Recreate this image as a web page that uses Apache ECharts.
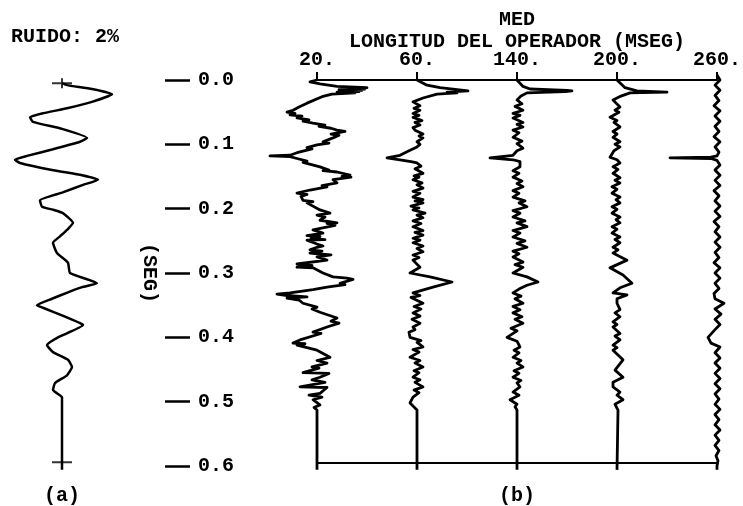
<!DOCTYPE html>
<html><head><meta charset="utf-8">
<script src="https://cdn.jsdelivr.net/npm/echarts@6/dist/echarts.min.js"></script>
<style>html,body{margin:0;padding:0;background:#fff}#c{width:743px;height:506px}</style>
</head><body><div id="c"></div>
<script>
// ---- labels ----
const noiseLabel = 'RUIDO: 2%';
const panelTitle = 'MED\nLONGITUD DEL OPERADOR (MSEG)';
const operatorLabels = ['20.', '60.', '140.', '200.', '260.'];
const operatorPositions = [0, 100, 200, 300, 400];
const timeTickLabels = ['0.0', '0.1', '0.2', '0.3', '0.4', '0.5', '0.6'];
const timeAxisName = '(SEG)';
const panelNames = ['(a)', '(b)'];

// ---- traces: [amplitude, time in ms] ----
const traceA = [[0,5],[5,8],[30,14],[50,22],[30,34],[5,44],[-20,52],[-32,58],[-29,65],[0,76],[25,90],[18,96],[-10,108],[-35,118],[-47,124],[-42,129],[-10,140],[20,148],[36,155],[21,163],[0,175],[-22,187],[-20,197],[-8,202],[1,207],[11,222],[5,233],[-2,243],[-9,253],[-5,269],[6,284],[8,300],[35,316],[20,322],[6,330],[-10,340],[-25,350],[-19,354],[0,366],[18,378],[21,381],[-4,400],[-15,412],[-9,423],[6,435],[10,446],[5,459],[-7,471],[-9,482],[0,493],[0,497],[0,606]];
const trace20 = [[0,0],[-7,3],[3,6],[20,10],[50,12],[30,13],[48,14],[22,15],[45,16],[25,17],[42,18],[20,19],[38,20],[15,22],[5,26],[-10,36],[-18,42],[-24,47],[-30,50],[-22,52],[-27,54],[-15,56],[-20,59],[-8,62],[-14,64],[-4,67],[8,70],[2,72],[14,75],[20,78],[28,80],[14,84],[22,86],[16,90],[6,96],[12,98],[0,101],[-10,105],[-5,107],[-10,109],[-20,113],[-27,117],[-47,118],[-27,119],[-20,122],[-10,126],[-14,128],[3,135],[12,140],[6,141],[20,143],[33,148],[25,150],[34,151],[16,155],[20,160],[5,164],[10,166],[-7,171],[-20,176],[-10,178],[-16,181],[-14,187],[-4,189],[-10,191],[3,202],[13,207],[0,210],[8,213],[3,218],[20,222],[10,223],[18,226],[-4,233],[6,238],[-10,242],[3,243],[-6,246],[8,248],[-10,249],[0,255],[6,258],[0,260],[-7,264],[5,266],[-7,269],[14,272],[0,275],[10,280],[-20,286],[-5,288],[-20,291],[-4,292],[6,300],[16,306],[30,308],[36,310],[23,316],[28,318],[10,322],[-4,326],[-27,331],[-40,333],[-30,335],[-10,337],[-30,339],[-18,342],[-14,347],[0,353],[-5,356],[3,361],[20,370],[14,375],[22,378],[10,384],[-4,392],[4,394],[-17,404],[-24,409],[-12,410],[-20,412],[0,420],[13,431],[0,436],[10,440],[-5,446],[2,448],[-14,455],[12,456],[3,462],[-5,466],[8,470],[-17,477],[10,478],[3,487],[-8,490],[5,493],[-4,497],[3,505],[-3,509],[0,513],[0,606]];
const trace60 = [[0,0],[0,3],[10,8],[23,12],[51,17],[30,19],[40,20],[20,22],[6,28],[-4,34],[3,40],[-3,44],[3,47],[-4,52],[2,55],[-4,58],[5,63],[-2,66],[3,70],[-4,74],[-2,78],[6,84],[2,87],[6,90],[0,96],[3,100],[0,104],[-8,110],[-17,117],[-30,121],[-17,124],[-6,127],[0,129],[4,134],[-2,138],[6,145],[-3,149],[2,151],[-4,155],[5,160],[0,163],[6,168],[-4,173],[3,176],[-4,182],[6,186],[-2,188],[6,191],[-6,196],[2,199],[-4,202],[8,207],[0,210],[6,214],[-4,219],[4,223],[-4,228],[6,234],[-2,237],[6,241],[-4,246],[3,249],[-4,253],[6,258],[0,262],[6,267],[-4,272],[2,276],[-4,280],[3,291],[-7,300],[13,306],[35,314],[16,322],[-4,331],[3,335],[-6,338],[6,347],[-3,352],[4,356],[-4,362],[3,367],[-5,372],[3,378],[-4,384],[-2,388],[-8,392],[-7,400],[4,405],[0,408],[6,415],[-4,419],[2,423],[-7,431],[3,436],[-2,440],[6,446],[-3,452],[2,455],[-4,462],[3,466],[-2,470],[6,477],[-3,482],[2,486],[-4,493],[-7,502],[0,513],[0,606]];
const trace140 = [[0,0],[0,3],[6,10],[13,14],[50,16],[55,17],[48,18],[10,20],[4,25],[0,31],[5,37],[-2,41],[6,47],[-4,52],[3,55],[-4,59],[6,66],[0,69],[6,73],[-4,78],[2,82],[-4,89],[5,95],[0,99],[6,106],[0,110],[2,112],[-4,117],[-27,121],[-4,124],[3,127],[3,135],[-4,141],[2,145],[-4,151],[5,157],[0,161],[6,166],[-4,172],[2,176],[-4,182],[8,188],[2,191],[10,197],[-4,203],[3,207],[-4,213],[8,219],[0,222],[10,228],[-4,234],[3,238],[-4,244],[8,250],[0,254],[10,260],[-4,266],[2,270],[-4,275],[6,283],[-2,287],[6,291],[-4,300],[10,306],[21,314],[10,319],[2,325],[-4,331],[4,336],[-2,340],[6,347],[-4,352],[3,357],[-4,362],[5,368],[-2,372],[6,378],[-6,386],[0,390],[-10,400],[0,406],[3,415],[-3,420],[2,424],[-4,431],[4,436],[0,440],[6,446],[-3,452],[2,456],[-4,462],[4,467],[0,471],[3,477],[-4,485],[2,490],[-7,497],[0,504],[-2,508],[0,513],[0,606]];
const trace200 = [[0,0],[0,3],[8,12],[20,17],[50,19],[13,20],[4,25],[-4,31],[3,42],[-2,47],[2,50],[-7,58],[0,63],[-3,66],[3,73],[-4,80],[0,84],[-4,89],[3,96],[-2,100],[3,104],[-3,110],[-7,120],[0,124],[3,129],[-4,135],[1,139],[-4,145],[3,152],[-2,156],[3,160],[-5,166],[0,170],[-5,176],[3,182],[-1,186],[3,191],[-5,197],[0,201],[-5,207],[3,213],[-1,217],[3,222],[-5,228],[0,232],[-5,238],[3,244],[-2,248],[3,253],[-4,260],[1,264],[-4,269],[10,280],[-7,292],[6,303],[15,316],[3,323],[-4,331],[10,334],[0,340],[0,347],[3,357],[-2,362],[3,368],[-4,376],[0,380],[-4,384],[3,394],[-2,398],[3,404],[-4,412],[0,416],[-4,420],[6,435],[-2,451],[6,462],[-4,470],[-4,477],[3,485],[0,490],[6,497],[-2,504],[1,513],[0,606]];
const trace260 = [[0,-8],[3,0],[-2,8],[3,16],[-2,24],[2,32],[-3,40],[3,48],[-2,56],[3,64],[-2,72],[2,80],[-3,88],[3,96],[-2,104],[2,112],[0,118],[-6,120],[-47,121],[-6,122],[0,125],[3,132],[-2,140],[3,148],[-2,156],[3,164],[-3,172],[2,180],[-2,188],[3,196],[-2,204],[3,212],[-3,220],[2,228],[-2,236],[3,244],[-2,252],[3,260],[-2,268],[2,276],[-3,284],[3,292],[-2,300],[3,308],[-2,316],[2,324],[-3,332],[-2,340],[7,347],[-2,356],[4,364],[-2,372],[3,380],[-2,388],[-9,400],[-6,409],[3,415],[-2,424],[3,432],[-2,440],[3,448],[-2,456],[3,464],[-2,472],[3,480],[-2,488],[2,496],[-2,504],[3,512],[-2,520],[2,528],[-2,536],[3,544],[-2,552],[2,560],[-2,568],[2,576],[-1,584],[1,592],[0,600],[0,606]];
const crossMarks = [[0,5],[0,594]];

const traces = [trace20, trace60, trace140, trace200, trace260];

const FONT = '"Liberation Mono", "DejaVu Sans Mono", monospace';
const txt = {fontFamily: FONT, fontWeight: 'bold', fontSize: 20, color: '#000'};
const black = '#000';

const chart = echarts.init(document.getElementById('c'), null, {renderer: 'canvas'});

const series = [];
series.push({
  type: 'line', xAxisIndex: 0, yAxisIndex: 0, data: traceA, showSymbol: false,
  clip: false, smooth: 0.15, lineStyle: {color: black, width: 2.5}, animation: false
});
series.push({
  type: 'scatter', xAxisIndex: 0, yAxisIndex: 0, data: crossMarks,
  symbol: 'path://M0,4H20V6H0Z M9,0H11V10H9Z', symbolSize: [20, 10],
  itemStyle: {color: black}, animation: false, clip: false
});
traces.forEach((tr, i) => {
  series.push({
    type: 'line', xAxisIndex: 3, yAxisIndex: 2,
    data: tr.map(p => [operatorPositions[i] + p[0], p[1]]),
    showSymbol: false, clip: false,
    lineStyle: {color: black, width: 2.8, join: 'round'}, animation: false
  });
});

const G = {top: 80, height: 386, outerBoundsMode: 'none', containLabel: false};

chart.setOption({
  backgroundColor: '#fff',
  animation: false,
  title: {text: noiseLabel, left: 6, top: 22, textStyle: txt},
  grid: [
    {...G, left: 2, width: 120},
    {...G, left: 317, width: 400},
    {...G, left: 217, width: 520},
    {...G, left: 165, width: 1}
  ],
  xAxis: [
    {gridIndex: 0, type: 'value', min: -60, max: 60,
     axisLine: {show: false}, axisTick: {show: false}, axisLabel: {show: false}, splitLine: {show: false},
     name: panelNames[0], nameLocation: 'middle', nameGap: 20, nameTextStyle: txt},
    {gridIndex: 1, type: 'value', position: 'top', min: 0, max: 400, interval: 100,
     axisLine: {show: true, lineStyle: {color: black, width: 2}},
     axisTick: {show: true, length: 8, lineStyle: {color: black, width: 2}},
     axisLabel: {margin: 10, formatter: v => operatorLabels[operatorPositions.indexOf(v)], ...txt},
     splitLine: {show: false},
     name: panelTitle, nameLocation: 'middle', nameGap: 27, nameMoveOverlap: false,
     nameTextStyle: {...txt, lineHeight: 22}},
    {gridIndex: 1, type: 'value', position: 'bottom', offset: -3, min: 0, max: 400,
     axisLine: {show: true, lineStyle: {color: black, width: 2}},
     axisTick: {show: false}, axisLabel: {show: false}, splitLine: {show: false},
     name: panelNames[1], nameLocation: 'middle', nameGap: 23, nameTextStyle: txt},
    {gridIndex: 2, type: 'value', min: -100, max: 420, show: false},
    {gridIndex: 3, type: 'value', min: 0, max: 1, show: false}
  ],
  yAxis: [
    {gridIndex: 0, type: 'value', inverse: true, min: 0, max: 600, show: false},
    {gridIndex: 1, type: 'value', inverse: true, min: 0, max: 600, show: false},
    {gridIndex: 2, type: 'value', inverse: true, min: 0, max: 600, show: false},
    {gridIndex: 3, type: 'value', inverse: true, min: 0, max: 600, interval: 100,
     position: 'left',
     axisLine: {show: false},
     axisTick: {show: true, inside: true, length: 25, lineStyle: {color: black, width: 2.5}},
     axisLabel: {inside: true, margin: 33, formatter: v => timeTickLabels[Math.round(v / 100)], ...txt},
     splitLine: {show: false},
     name: timeAxisName, nameLocation: 'middle', nameRotate: -90, nameGap: 6, nameMoveOverlap: false,
     nameTextStyle: txt}
  ],
  series: series
});
</script></body></html>
